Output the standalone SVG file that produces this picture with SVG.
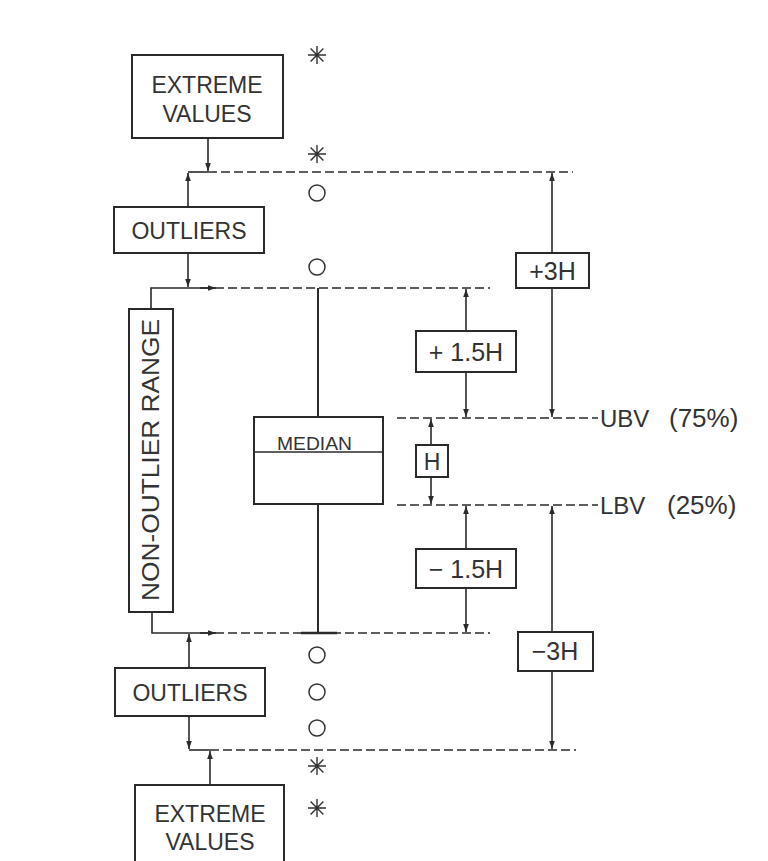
<svg xmlns="http://www.w3.org/2000/svg" width="768" height="861" viewBox="0 0 768 861">
<defs>
<style>
.box{fill:#fff;stroke:#2a2a2a;stroke-width:2}
.ln{fill:none;stroke:#2a2a2a;stroke-width:1.6}
.dash{fill:none;stroke:#2a2a2a;stroke-width:1.6;stroke-dasharray:9 4}
.t{font-family:"Liberation Sans","DejaVu Sans",sans-serif;fill:#333;font-size:23px}
.d{font-size:25px}
.ah{fill:#2a2a2a}
.circ{fill:none;stroke:#333;stroke-width:1.5}
</style>
<symbol id="ast" viewBox="-10 -10 20 20" overflow="visible">
<path d="M0,-9V9M-9,0H9M-6.4,-6.4L6.4,6.4M-6.4,6.4L6.4,-6.4" stroke="#333" stroke-width="1.4" fill="none"/>
</symbol>
<marker id="arr" viewBox="0 0 10 10" refX="10" refY="5" markerWidth="8" markerHeight="8" orient="auto-start-reverse" markerUnits="userSpaceOnUse">
<path d="M0,1.5L10,5L0,8.5z" class="ah"/>
</marker>
</defs>
<rect width="768" height="861" fill="#fff"/>

<g id="connectors">
<path class="ln" d="M188,172H208" />
<path class="dash" d="M208,172H573"/>
<path class="ln" d="M208,138V171" marker-end="url(#arr)"/>
<path class="ln" d="M188,207V173" marker-end="url(#arr)"/>
<path class="ln" d="M188,253V287" marker-end="url(#arr)"/>
<path class="ln" d="M151,309V288H215"/>
<path class="dash" d="M215,288H490"/>
<path class="ln" d="M200,288H216" marker-end="url(#arr)"/>
<path class="ln" d="M318,288V417" style="stroke-width:2"/>
<path class="ln" d="M318,504V633" style="stroke-width:2"/>
<path class="ln" d="M152,612V633H215"/>
<path class="ln" d="M200,633H216" marker-end="url(#arr)"/>
<path class="dash" d="M215,633H490"/>
<path class="ln" d="M301,633H337" style="stroke-width:2.5"/>
<path class="ln" d="M189,668V634" marker-end="url(#arr)"/>
<path class="ln" d="M189,716V749" marker-end="url(#arr)"/>
<path class="ln" d="M189,750H210"/>
<path class="dash" d="M210,750H576"/>
<path class="ln" d="M210,785V751" marker-end="url(#arr)"/>
<path class="dash" d="M397,418H598"/>
<path class="dash" d="M397,505H598"/>
<path class="ln" d="M466,331V289" marker-end="url(#arr)"/>
<path class="ln" d="M466,372V417" marker-end="url(#arr)"/>
<path class="ln" d="M552,253V173" marker-end="url(#arr)"/>
<path class="ln" d="M552,288V417" marker-end="url(#arr)"/>
<path class="ln" d="M431,445V419" marker-end="url(#arr)"/>
<path class="ln" d="M431,477V504" marker-end="url(#arr)"/>
<path class="ln" d="M466,549V506" marker-end="url(#arr)"/>
<path class="ln" d="M466,588V632" marker-end="url(#arr)"/>
<path class="ln" d="M552,632V506" marker-end="url(#arr)"/>
<path class="ln" d="M552,671V749" marker-end="url(#arr)"/>
</g>

<g id="extreme-top">
<rect class="box" x="132" y="55" width="151" height="83"/>
<text class="t" x="207" y="93" text-anchor="middle">EXTREME</text>
<text class="t" x="207" y="122" text-anchor="middle">VALUES</text>
</g>
<g id="outliers-top">
<rect class="box" x="114" y="207" width="150" height="46"/>
<text class="t" x="189" y="239" text-anchor="middle">OUTLIERS</text>
</g>
<g id="non-outlier-range">
<rect class="box" x="129" y="309" width="44" height="303"/>
<text class="t" transform="translate(159,460) rotate(-90)" text-anchor="middle" textLength="282" lengthAdjust="spacingAndGlyphs">NON-OUTLIER RANGE</text>
</g>
<g id="median-box">
<rect class="box" x="254" y="417" width="129" height="87"/>
<path class="ln" d="M254,452H383"/>
<text class="t" x="277" y="450" style="font-size:18px" textLength="75" lengthAdjust="spacingAndGlyphs">MEDIAN</text>
</g>
<g id="outliers-bottom">
<rect class="box" x="115" y="668" width="150" height="48"/>
<text class="t" x="190" y="701" text-anchor="middle">OUTLIERS</text>
</g>
<g id="extreme-bottom">
<rect class="box" x="135" y="785" width="149" height="90"/>
<text class="t" x="210" y="822" text-anchor="middle">EXTREME</text>
<text class="t" x="210" y="850" text-anchor="middle">VALUES</text>
</g>
<g id="plus3h">
<rect class="box" x="516" y="253" width="73" height="35"/>
<text class="t d" x="552.5" y="280" text-anchor="middle">+3H</text>
</g>
<g id="plus15h">
<rect class="box" x="416" y="331" width="100" height="41"/>
<text class="t d" x="466" y="361" text-anchor="middle">+ 1.5H</text>
</g>
<g id="h">
<rect class="box" x="416" y="445" width="32" height="32"/>
<text class="t" x="432" y="470" text-anchor="middle">H</text>
</g>
<g id="minus15h">
<rect class="box" x="416" y="549" width="100" height="39"/>
<text class="t d" x="466" y="578" text-anchor="middle">− 1.5H</text>
</g>
<g id="minus3h">
<rect class="box" x="518" y="632" width="75" height="39"/>
<text class="t d" x="555" y="660" text-anchor="middle">−3H</text>
</g>
<g id="ubv">
<text class="t" x="600" y="427" style="font-size:24px">UBV<tspan x="669" style="font-size:26px">(75%)</tspan></text>
</g>
<g id="lbv">
<text class="t" x="600" y="514" style="font-size:24px">LBV<tspan x="667" style="font-size:26px">(25%)</tspan></text>
</g>
<g id="points">
<use href="#ast" x="307" y="45" width="20" height="20"/>
<use href="#ast" x="307" y="144" width="20" height="20"/>
<circle class="circ" cx="317" cy="193" r="8"/>
<circle class="circ" cx="317" cy="267" r="8"/>
<circle class="circ" cx="317" cy="655" r="8"/>
<circle class="circ" cx="317" cy="692" r="8"/>
<circle class="circ" cx="317" cy="728" r="8"/>
<use href="#ast" x="307" y="756" width="20" height="20"/>
<use href="#ast" x="307" y="798" width="20" height="20"/>
</g>
</svg>
